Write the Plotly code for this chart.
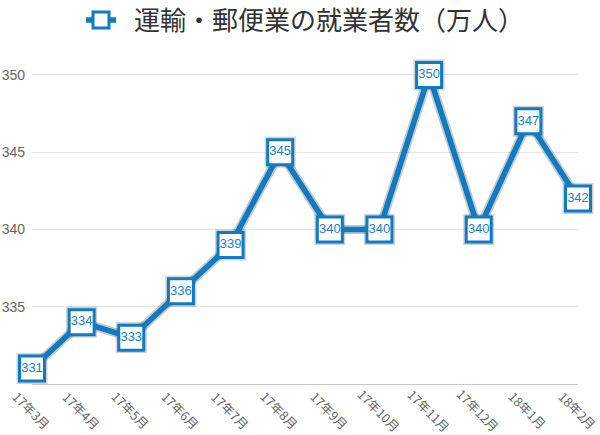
import plotly.graph_objects as go

months = ["17年3月", "17年4月", "17年5月", "17年6月", "17年7月", "17年8月",
          "17年9月", "17年10月", "17年11月", "17年12月", "18年1月", "18年2月"]
workers = [331, 334, 333, 336, 339, 345, 340, 340, 350, 340, 347, 342]
series_name = "運輸・郵便業の就業者数（万人）"
y_ticks = [335, 340, 345, 350]

BLUE = "#0f7bc2"
LEFT, RIGHT, TOP, BOTTOM = 32, 22, 44, 51
W, H = 600, 435

fig = go.Figure()

# soft shadow under line and markers
fig.add_trace(go.Scatter(
    x=months, y=workers, mode="lines+markers", showlegend=False, hoverinfo="skip",
    line=dict(color="rgba(0,0,0,0.22)", width=9),
    marker=dict(symbol="square", size=31, color="rgba(0,0,0,0.18)", line=dict(width=0)),
    cliponaxis=False,
))

fig.add_trace(go.Scatter(
    x=months, y=workers, mode="lines+markers", name="\u2002" + series_name,
    line=dict(color=BLUE, width=5.5),
    marker=dict(symbol="square", size=25, color="white", line=dict(color=BLUE, width=3)),
    cliponaxis=False,
))

fig.add_trace(go.Scatter(
    x=months, y=workers, mode="text", showlegend=False, hoverinfo="skip",
    text=[str(v) for v in workers], textposition="middle center",
    textfont=dict(family="Liberation Sans, Arial, sans-serif", size=13, color="#1f7fc4"),
    cliponaxis=False,
))

plot_h = H - TOP - BOTTOM
plot_w = W - LEFT - RIGHT
label_center_px = 410
for m in months:
    fig.add_annotation(
        x=m, y=-(label_center_px - (H - BOTTOM)) / plot_h, xref="x", yref="paper",
        text=m, textangle=45, showarrow=False, xanchor="center", yanchor="middle",
        font=dict(family="Noto Sans CJK JP, sans-serif", size=12.5, color="#666666"),
    )

fig.update_layout(
    width=W, height=H,
    margin=dict(l=LEFT, r=RIGHT, t=TOP, b=BOTTOM, autoexpand=False),
    paper_bgcolor="white", plot_bgcolor="white",
    showlegend=True,
    legend=dict(
        orientation="h", x=(81 - LEFT) / plot_w, xanchor="left",
        y=1 + (TOP - 20) / plot_h, yanchor="middle",
        font=dict(family="Noto Sans CJK JP, sans-serif", size=26, color="#333333"),
        bgcolor="rgba(0,0,0,0)", itemwidth=30,
    ),
    xaxis=dict(
        type="category", range=[0, len(months) - 1], showgrid=False,
        showticklabels=False, ticks="", showline=True, linecolor="#c8c8c8",
        linewidth=1, zeroline=False, automargin=False,
    ),
    yaxis=dict(
        range=[330, 352], tickvals=y_ticks, showgrid=True, gridcolor="#e6e6e6",
        gridwidth=1, zeroline=False, showline=False, ticks="",
        ticklabelstandoff=6, automargin=False,
        tickfont=dict(family="Liberation Sans, Arial, sans-serif", size=14, color="#666666"),
    ),
)

fig.write_html("out.html", config={"displayModeBar": False},
               post_script="document.body.style.margin='0';")
